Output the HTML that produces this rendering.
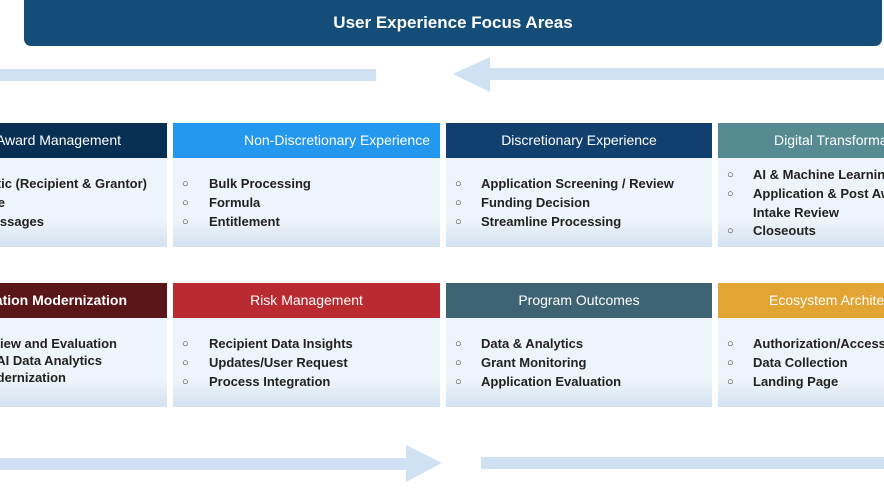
<!DOCTYPE html>
<html><head><meta charset="utf-8"><style>
*{margin:0;padding:0;box-sizing:border-box}
body{width:884px;height:500px;background:#fff;position:relative;overflow:hidden;font-family:"Liberation Sans",sans-serif}
.a{position:absolute}
.banner{left:24px;top:0;width:858px;height:46px;background:#134d78;border-radius:0 0 7px 7px;color:#fff;font-weight:bold;font-size:17px;text-align:center;line-height:46px}
.hdr{position:absolute;height:35px;color:#fff;font-size:14px;line-height:35px;text-align:center;white-space:nowrap;overflow:hidden}
.hdr span{position:absolute;top:0}
.body{position:absolute;height:89px;background:linear-gradient(to bottom,#eef4fb 0%,#eef4fb 70%,#d3e2f0 100%)}
.t{position:absolute;font-weight:bold;font-size:13px;color:#222;white-space:nowrap}
.b{position:absolute;font-size:11px;color:#333}
.bar{position:absolute;background:#cfe1f2}
</style></head><body>
<div class="a banner">User Experience Focus Areas</div>

<div class="bar" style="left:0;top:69px;width:376px;height:12px"></div>
<div class="bar" style="left:489px;top:68px;width:395px;height:12px"></div>
<svg class="a" style="left:450px;top:55px" width="42" height="40"><polygon points="3,19 40,2 40,37" fill="#cfe1f2"/></svg>

<div class="bar" style="left:0;top:458px;width:408px;height:12px"></div>
<svg class="a" style="left:405px;top:444px" width="40" height="40"><polygon points="1,1 37,19 1,38" fill="#cfe1f2"/></svg>
<div class="bar" style="left:481px;top:457px;width:403px;height:12px"></div>

<!-- Row 1 headers -->
<div class="hdr" style="left:0;top:123px;width:167px;background:#072f54"><span style="right:46px">Award Management</span></div>
<div class="hdr" style="left:173px;top:123px;width:267px;background:#2498ee;text-align:right;padding-right:10px">Non-Discretionary Experience</div>
<div class="hdr" style="left:446px;top:123px;width:266px;background:#12406e">Discretionary Experience</div>
<div class="hdr" style="left:718px;top:123px;width:166px;background:#578b93;text-align:left;padding-left:56px">Digital Transformation</div>

<div class="body" style="left:0;top:158px;width:167px"></div>
<div class="body" style="left:173px;top:158px;width:267px"></div>
<div class="body" style="left:446px;top:158px;width:266px"></div>
<div class="body" style="left:718px;top:158px;width:166px"></div>

<!-- Row 2 headers -->
<div class="hdr" style="left:0;top:283px;width:167px;background:#5b1619;font-weight:bold"><span style="right:40px">Application Modernization</span></div>
<div class="hdr" style="left:173px;top:283px;width:267px;background:#b92a31">Risk Management</div>
<div class="hdr" style="left:446px;top:283px;width:266px;background:#3e6373">Program Outcomes</div>
<div class="hdr" style="left:718px;top:283px;width:166px;background:#e2a533;text-align:left;padding-left:51px">Ecosystem Architecture</div>

<div class="body" style="left:0;top:318px;width:167px"></div>
<div class="body" style="left:173px;top:318px;width:267px"></div>
<div class="body" style="left:446px;top:318px;width:266px"></div>
<div class="body" style="left:718px;top:318px;width:166px"></div>

<!-- col1 row1 text -->
<div class="t" style="right:737px;top:176px">Analytic (Recipient &amp; Grantor)</div>
<div class="t" style="right:879px;top:195px">Profile</div>
<div class="t" style="right:840px;top:214px">Messages</div>
<!-- col1 row2 -->
<div class="t" style="right:767px;top:336px">Review and Evaluation</div>
<div class="t" style="right:782px;top:353px">AI Data Analytics</div>
<div class="t" style="right:818px;top:370px">Modernization</div>

<!-- col2 row1 -->
<div class="b" style="left:182px;top:178px">○</div><div class="t" style="left:209px;top:176px">Bulk Processing</div>
<div class="b" style="left:182px;top:197px">○</div><div class="t" style="left:209px;top:195px">Formula</div>
<div class="b" style="left:182px;top:216px">○</div><div class="t" style="left:209px;top:214px">Entitlement</div>
<!-- col2 row2 -->
<div class="b" style="left:182px;top:338px">○</div><div class="t" style="left:209px;top:336px">Recipient Data Insights</div>
<div class="b" style="left:182px;top:357px">○</div><div class="t" style="left:209px;top:355px">Updates/User Request</div>
<div class="b" style="left:182px;top:376px">○</div><div class="t" style="left:209px;top:374px">Process Integration</div>

<!-- col3 row1 -->
<div class="b" style="left:455px;top:178px">○</div><div class="t" style="left:481px;top:176px">Application Screening / Review</div>
<div class="b" style="left:455px;top:197px">○</div><div class="t" style="left:481px;top:195px">Funding Decision</div>
<div class="b" style="left:455px;top:216px">○</div><div class="t" style="left:481px;top:214px">Streamline Processing</div>
<!-- col3 row2 -->
<div class="b" style="left:455px;top:338px">○</div><div class="t" style="left:481px;top:336px">Data &amp; Analytics</div>
<div class="b" style="left:455px;top:357px">○</div><div class="t" style="left:481px;top:355px">Grant Monitoring</div>
<div class="b" style="left:455px;top:376px">○</div><div class="t" style="left:481px;top:374px">Application Evaluation</div>

<!-- col4 row1 -->
<div class="b" style="left:727px;top:169px">○</div><div class="t" style="left:753px;top:167px">AI &amp; Machine Learning</div>
<div class="b" style="left:727px;top:188px">○</div><div class="t" style="left:753px;top:186px">Application &amp; Post Award</div>
<div class="t" style="left:753px;top:205px">Intake Review</div>
<div class="b" style="left:727px;top:225px">○</div><div class="t" style="left:753px;top:223px">Closeouts</div>
<!-- col4 row2 -->
<div class="b" style="left:727px;top:338px">○</div><div class="t" style="left:753px;top:336px">Authorization/Access</div>
<div class="b" style="left:727px;top:357px">○</div><div class="t" style="left:753px;top:355px">Data Collection</div>
<div class="b" style="left:727px;top:376px">○</div><div class="t" style="left:753px;top:374px">Landing Page</div>
</body></html>
